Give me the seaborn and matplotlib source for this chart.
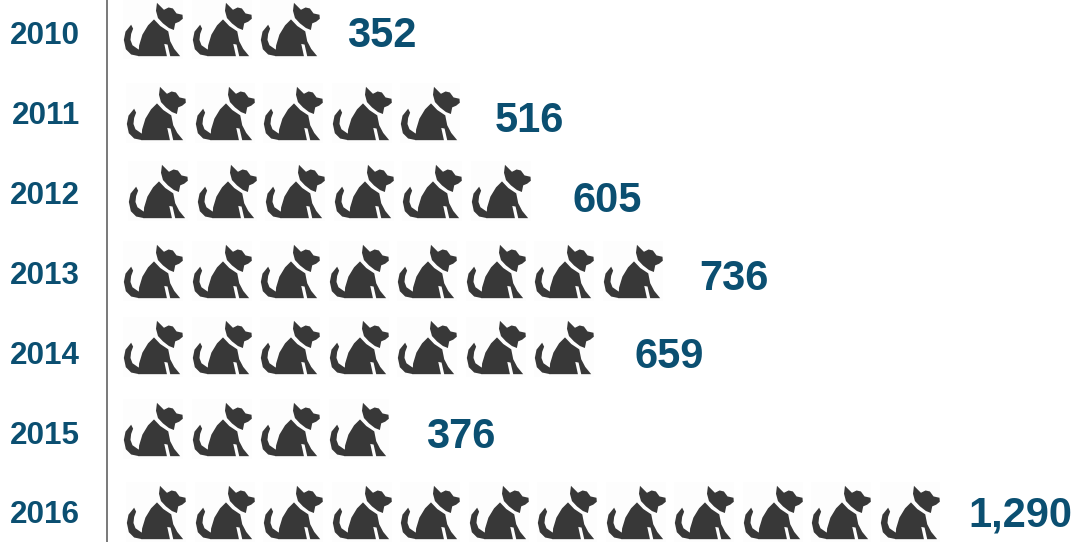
import matplotlib
matplotlib.use("Agg")
import matplotlib.pyplot as plt
import pandas as pd
import seaborn as sns
from matplotlib.path import Path

years = ["2010", "2011", "2012", "2013", "2014", "2015", "2016"]
values = [352, 516, 605, 736, 659, 376, 1290]
dog_counts = [3, 5, 6, 8, 7, 4, 12]

# layout nudges (pixels), one per row
PITCH_X, PITCH_Y = 68.5, 79.8
row_dx = [0, 3, 5, 0, 0, 0, 3]
row_dy = [-4, 0, -2, -1, -5, -3, 0]
label_gap = [57, 65, 72, 67, 70, 68, 59]
label_dy = [3, 8, 8, 7, 5, 5, 4]

BLUE = "#0b4f71"
DOG = "#383838"


def dog_marker():
    M, L, C = Path.MOVETO, Path.LINETO, Path.CLOSEPOLY
    shapes = [
        # head with ear and muzzle
        [(140, 6), (161, 27), (175, 20), (188, 23), (199, 38), (217, 42), (218, 54),
         (207, 63), (195, 68), (191, 88), (176, 82), (158, 68), (143, 52), (137, 30)],
        # body and front legs, below the collar
        [(131, 56), (150, 76), (174, 92), (180, 122), (192, 145), (210, 167),
         (180, 167), (172, 132), (162, 130), (170, 167), (84, 167), (86, 135),
         (96, 102), (113, 74)],
        # tail
        [(62, 72), (68, 84), (62, 100), (60, 118), (66, 134), (86, 148), (86, 167),
         (62, 162), (46, 146), (40, 118), (45, 93)],
    ]
    verts, codes = [], []
    for s in shapes:
        pts = [(x - 129.5, 86.5 - y) for x, y in s]
        verts += pts + [pts[0]]
        codes += [M] + [L] * (len(pts) - 1) + [C]
    return Path(verts, codes)


rows = []
for r, n in enumerate(dog_counts):
    for i in range(n):
        rows.append({"x": i + row_dx[r] / PITCH_X, "y": r + row_dy[r] / PITCH_Y})
df = pd.DataFrame(rows)

sns.set_theme(style="white")
plt.rcParams["font.family"] = ["Liberation Sans", "DejaVu Sans"]
fig, ax = plt.subplots(figsize=(10.76, 5.42), dpi=100)
ax.set_position([0, 0, 1, 1])

side = 59.3 * 0.72
sns.scatterplot(data=df, x="x", y="y", ax=ax, marker="s", s=(side * 1.02) ** 2,
                color="#fdfdfd", linewidth=0, legend=False, zorder=2)
sns.scatterplot(data=df, x="x", y="y", ax=ax, marker=dog_marker(), s=side ** 2,
                color=DOG, linewidth=0, legend=False, zorder=3)

ax.set_xlim(-153 / PITCH_X, (1076 - 153) / PITCH_X)
ax.set_ylim((542 - 33) / PITCH_Y, -33 / PITCH_Y)
ax.set_xlabel("")
ax.set_ylabel("")

for side_name in ("top", "right", "bottom"):
    ax.spines[side_name].set_visible(False)
ax.spines["left"].set_position(("axes", 107 / 1076))
ax.spines["left"].set_color("#555555")
ax.spines["left"].set_linewidth(1.1)

ax.set_xticks([])
ax.set_yticks(range(len(years)), labels=years, fontweight="bold")
ax.tick_params(axis="y", length=0, pad=19.4, labelsize=22.6, labelcolor=BLUE)

for r, (v, n) in enumerate(zip(values, dog_counts)):
    ax.annotate(f"{v:,}", xy=(n - 1 + row_dx[r] / PITCH_X, r),
                xytext=(label_gap[r] * 0.72, -label_dy[r] * 0.72), textcoords="offset points",
                ha="left", va="center", fontsize=30, fontweight="bold", color=BLUE,
                annotation_clip=False)

fig.savefig("out.png", dpi=100)
